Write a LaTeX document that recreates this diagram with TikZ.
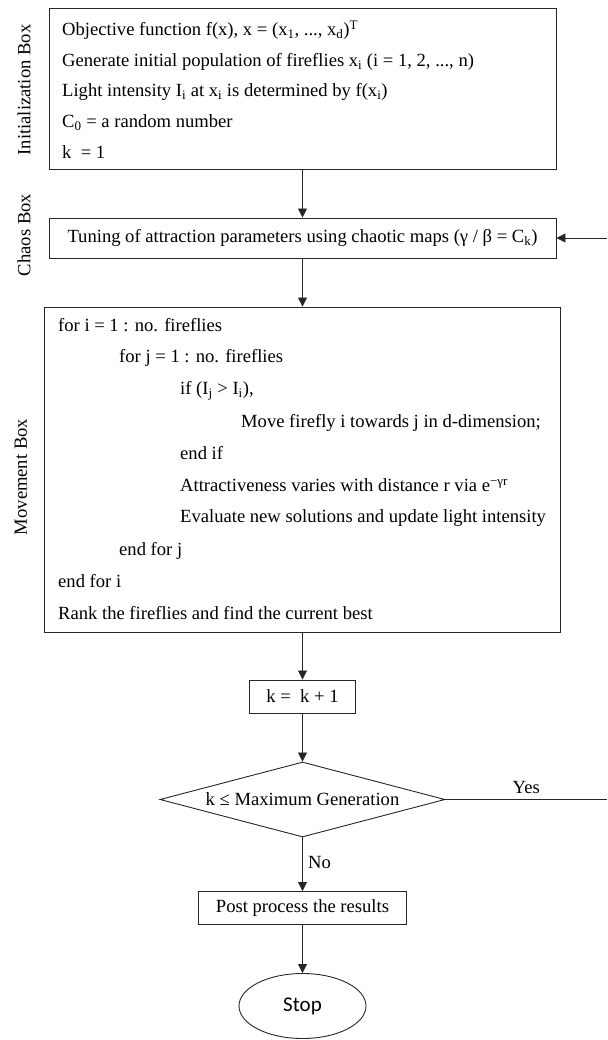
\documentclass[tikz,border=0pt]{standalone}
\usepackage{fontspec}
\setmainfont{Liberation Serif}
\newfontfamily\stopfont{Carlito}
\usetikzlibrary{shapes.geometric,arrows.meta}
\tikzset{
  box/.style={draw=black!85, line width=0.9pt, rectangle, inner sep=0pt},
  txt/.style={anchor=west, inner sep=0pt, text height=13pt, text depth=4pt},
  side/.style={rotate=90, inner sep=0pt},
  arr/.style={draw=black!85, line width=0.8pt, -{Triangle[length=9pt,width=9pt]}},
  ln/.style={draw=black!85, line width=0.8pt},
}
\newcommand{\sbs}[1]{\textsubscript{#1}}
\newcommand{\sps}[1]{\textsuperscript{#1}}
\begin{document}
\begin{tikzpicture}[x=1pt,y=-1pt,font=\fontsize{18.6}{22}\selectfont]
\useasboundingbox (0,0) rectangle (607,1040);
% boxes
\node[box, minimum width=507pt, minimum height=161pt] (init) at (302.5,88.5) {};
\node[box, minimum width=507pt, minimum height=40pt] (chaos) at (302.5,238) {Tuning of attraction parameters using chaotic maps (γ / β = C\sbs{k})};
\node[box, minimum width=516pt, minimum height=325pt] (move) at (302.5,469.5) {};
\node[box, minimum width=106pt, minimum height=33pt] (kinc) at (302.5,696.5) {k =\ \ k + 1};
\node[draw=black!85, line width=0.9pt, diamond, aspect=3.8, minimum width=285pt, minimum height=75pt, inner sep=0pt] (dec) at (302.5,799.5) {k ≤ Maximum Generation};
\node[box, minimum width=208pt, minimum height=33pt] (post) at (302.5,908) {Post process the results};
\node[draw=black!85, line width=0.9pt, ellipse, minimum width=127pt, minimum height=65pt, inner sep=0pt] (stop) at (302.5,1006) {\stopfont\fontsize{21}{24}\selectfont Stop};
% side labels
\node[side] (lab1) at (24,90) {Initialization Box};
\node[side] (lab2) at (24,235) {Chaos Box};
\node[side] (lab3) at (21,477) {Movement Box};
% init text
\node[txt] (i1) at (62,31) {Objective function f(x), x = (x\sbs{1}, ..., x\sbs{d})\sps{T}};
\node[txt] (i2) at (62,62) {Generate initial population of fireflies x\sbs{i} (i = 1, 2, ..., n)};
\node[txt] (i3) at (62,92) {Light intensity I\sbs{i} at x\sbs{i} is determined by f(x\sbs{i})};
\node[txt] (i4) at (62,123) {C\sbs{0} = a random number};
\node[txt] (i5) at (62,154) {k\ \ = 1};
% movement text
\node[txt] (m1) at (58,327) {for i = 1 : no. fireflies};
\node[txt] (m2) at (119,358) {for j = 1 : no. fireflies};
\node[txt] (m3) at (180,390) {if (I\sbs{j} > I\sbs{i}),};
\node[txt] (m4) at (241,423) {Move firefly i towards j in d-dimension;};
\node[txt] (m5) at (180,455) {end if};
\node[txt] (m6) at (180,487) {Attractiveness varies with distance r via e\sps{−γr}};
\node[txt] (m7) at (180,518) {Evaluate new solutions and update light intensity};
\node[txt] (m8) at (119,551) {end for j};
\node[txt] (m9) at (58,583) {end for i};
\node[txt] (m10) at (58,615) {Rank the fireflies and find the current best};
% connectors
\coordinate (yesend) at (607,799.5);
\coordinate (fbstart) at (607,238);
\draw[arr] (init.south) -- (chaos.north);
\draw[arr] (chaos.south) -- (move.north);
\draw[arr] (move.south) -- (kinc.north);
\draw[arr] (kinc.south) -- (dec.north);
\draw[arr] (dec.south) -- node[right, xshift=2pt, yshift=-1pt, pos=0.45] {No} (post.north);
\draw[arr] (post.south) -- (stop.north);
\draw[ln] (dec.east) -- node[above, pos=0.5, yshift=2pt] {Yes} (yesend);
\draw[arr] (fbstart) -- (chaos.east);
\end{tikzpicture}
\end{document}
